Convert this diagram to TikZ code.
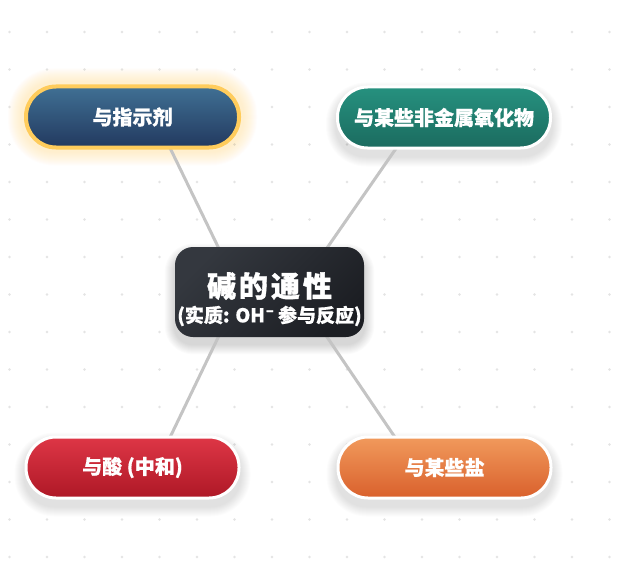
\documentclass[tikz,border=0pt]{standalone}
\usepackage{fontspec}
\newfontfamily\cjk{Noto Sans CJK SC}
\newfontfamily\cjkheavy{Noto Sans CJK SC}[FakeBold=0.6]
\usetikzlibrary{calc}
\pgfdeclarelayer{bg}
\pgfdeclarelayer{shad}
\pgfdeclarelayer{lines}
\pgfsetlayers{bg,shad,lines,main}
\definecolor{indA}{HTML}{407094}
\definecolor{indB}{HTML}{22395F}
\definecolor{oxA}{HTML}{26917F}
\definecolor{oxB}{HTML}{1B6B5F}
\definecolor{acA}{HTML}{DE3646}
\definecolor{acB}{HTML}{AE1826}
\definecolor{saA}{HTML}{F19A5C}
\definecolor{saB}{HTML}{D9602C}
\definecolor{coreA}{HTML}{34383F}
\definecolor{coreB}{HTML}{1C1E23}
\definecolor{glow}{HTML}{FFD166}
\definecolor{ringy}{HTML}{FFCC5C}
\definecolor{linkgray}{HTML}{C4C4C4}
\definecolor{dotgray}{HTML}{E4E4E4}
\begin{document}
\begin{tikzpicture}[x=1pt,y=-1pt,
  pill/.style={rectangle, rounded corners=30pt, minimum width=213pt, minimum height=61pt,
    inner sep=0pt, draw=white, line width=3pt, shading angle=45},
  leaftext/.style={text=white, font=\cjkheavy\bfseries\fontsize{20}{22}\selectfont, inner sep=0pt},
  corebox/.style={rectangle, rounded corners=18pt, minimum width=189pt, minimum height=90pt,
    inner sep=0pt, top color=coreA, bottom color=coreB, shading angle=45},
  link/.style={draw=linkgray, line width=3pt},
]
\useasboundingbox (0,0) rectangle (623,567);
\begin{pgfonlayer}{bg}
  \fill[white] (0,0) rectangle (623,567);
  \foreach \i in {0,...,16} \foreach \j in {0,...,14}
    \fill[dotgray] (9.5+37.5*\i, 32+37.5*\j) circle (1.3pt);
\end{pgfonlayer}

% nodes
\node[corebox] (core) at (269.5,292) {};
\node[pill, draw=ringy, line width=4pt, top color=indA, bottom color=indB] (ind) at (132.5,117) {};
\node[pill, top color=oxA, bottom color=oxB] (ox) at (444,117.5) {};
\node[pill, top color=acA, bottom color=acB] (ac) at (132.5,467.5) {};
\node[pill, top color=saA, bottom color=saB] (sa) at (444.5,467.5) {};

% texts
\node[leaftext] (indt) at (ind.center) {与指示剂};
\node[leaftext] (oxt) at (ox.center) {与某些非金属氧化物};
\node[leaftext] (act) at (ac.center) {与酸 (中和)};
\node[leaftext] (sat) at (sa.center) {与某些盐};
\node[text=white, font=\cjk\bfseries\fontsize{29}{31}\selectfont, inner sep=0pt]
  (coret) at ($(core.center)+(0,-6)$) {\addfontfeature{FakeBold=1.2}碱\hspace{3pt}的\hspace{3pt}通\hspace{3pt}性};
\node[text=white, font=\cjkheavy\bfseries\fontsize{19}{21}\selectfont, inner sep=0pt]
  (cores) at ($(core.center)+(0,24)$) {(实质: OH\hspace{1pt}{\fontsize{14}{14}\selectfont\raisebox{7pt}{–}} 参与反应)};

% shadows and glow
\begin{pgfonlayer}{shad}
  \foreach \n in {ox,ac,sa} {
    \foreach \k in {1,...,10} {
      \pgfmathsetmacro{\r}{30+\k}
      \fill[black, opacity=0.013, rounded corners=\r pt]
        ($(\n.north west)+(-\k, -\k+7)$) rectangle ($(\n.south east)+(\k, \k+7)$);
    }
  }
  \foreach \k in {1,...,10} {
    \pgfmathsetmacro{\r}{18+\k}
    \fill[black, opacity=0.015, rounded corners=\r pt]
      ($(core.north west)+(-\k, -\k+7)$) rectangle ($(core.south east)+(\k, \k+7)$);
  }
  \foreach \k in {1,...,14} {
    \pgfmathsetmacro{\r}{32+\k}
    \fill[glow, opacity=0.022, rounded corners=\r pt]
      ($(ind.north west)+(-\k-2, -\k-2)$) rectangle ($(ind.south east)+(\k+2, \k+2)$);
  }
\end{pgfonlayer}

% connectors
\begin{pgfonlayer}{lines}
  \draw[link] ($(core.center)+(-29.5,0)$) -- ($(ind.center)+(22.5,0)$);
  \draw[link] ($(core.center)+(27,0)$) -- ($(ox.center)+(-26.5,0)$);
  \draw[link] ($(core.center)+(-29.5,0)$) -- ($(ac.center)+(23,0)$);
  \draw[link] ($(core.center)+(27,0)$) -- ($(sa.center)+(-29,0)$);
\end{pgfonlayer}
\end{tikzpicture}
\end{document}
